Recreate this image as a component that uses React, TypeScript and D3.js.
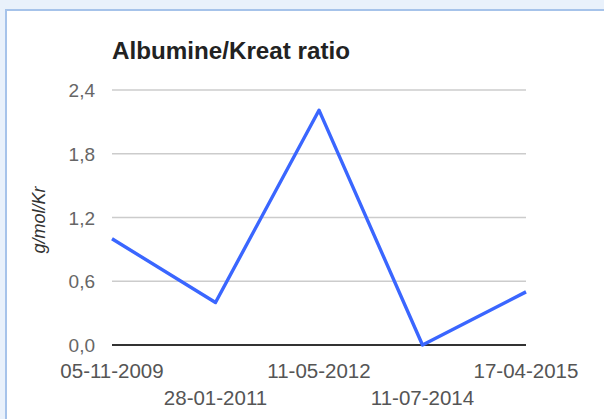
import React from "react";
import * as d3 from "d3";

const dates = ["05-11-2009", "28-01-2011", "11-05-2012", "11-07-2014", "17-04-2015"];
const values = [1.0, 0.4, 2.21, 0.0, 0.5];
const yTicks = [0, 0.6, 1.2, 1.8, 2.4];
const title = "Albumine/Kreat ratio";
const yTitle = "g/mol/Kr";

export default function App() {
  const W = 604, H = 419;
  const left = 112, right = 526, top = 90, bottom = 345;
  const x = d3.scalePoint<string>().domain(dates).range([left, right]);
  const y = d3.scaleLinear().domain([0, 2.4]).range([bottom, top]);
  const line = d3.line<number>().x((_, i) => x(dates[i]) as number).y((d) => y(d));
  const fmt = (v: number) => v.toFixed(1).replace(".", ",");
  const font = "Liberation Sans, Arial, sans-serif";
  return (
    <svg width={W} height={H} style={{ position: "absolute", left: 0, top: 0 }}>
      <rect x={0} y={0} width={W} height={H} fill="#e9f1fb" />
      <rect x={6} y={10} width={W + 10} height={H + 10} fill="#ffffff" stroke="#a6c3ea" strokeWidth={2} />
      <text x={left} y={59} fontFamily={font} fontWeight="bold" fontSize={24} fill="#222" textLength={238} lengthAdjust="spacingAndGlyphs">{title}</text>
      {yTicks.map((t) => (
        <g key={t}>
          <line x1={left} x2={right} y1={y(t)} y2={y(t)} stroke={t === 0 ? "#333" : "#cccccc"} strokeWidth={t === 0 ? 2 : 1.5} />
          <text x={95} y={y(t) + 7} textAnchor="end" fontFamily={font} fontSize={19} fill="#666">{fmt(t)}</text>
        </g>
      ))}
      <text transform={`translate(45,220) rotate(-90)`} textAnchor="middle" fontFamily={font} fontStyle="italic" fontSize={18} fill="#333">{yTitle}</text>
      <path d={line(values) || ""} fill="none" stroke="#3a66ff" strokeWidth={3.4} strokeLinejoin="round" />
      {dates.map((d, i) => (
        <text key={d} x={x(d)} y={i % 2 === 0 ? 378 : 405} textAnchor="middle" fontFamily={font} fontSize={20.5} fill="#555">{d}</text>
      ))}
    </svg>
  );
}
